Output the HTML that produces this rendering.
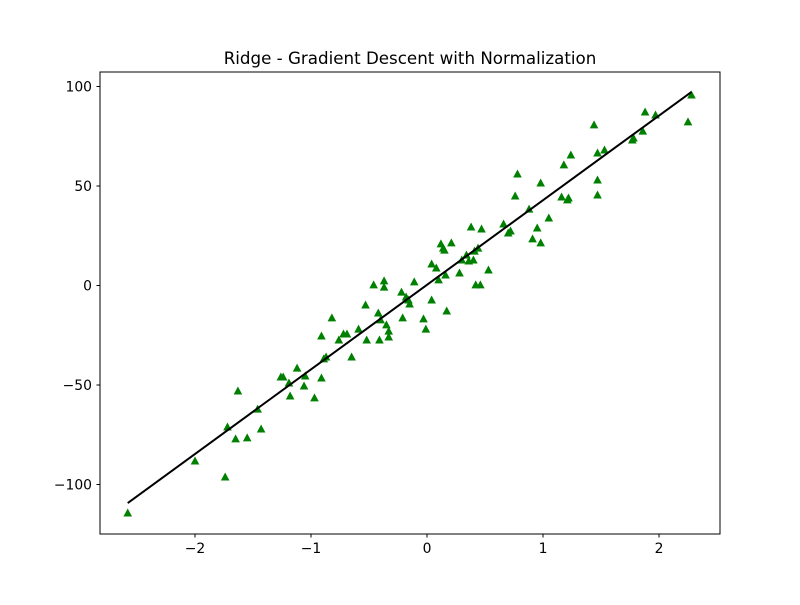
<!DOCTYPE html>
<html><head><meta charset="utf-8"><style>
body{margin:0;background:#fff}
svg text{font-family:"DejaVu Sans","Liberation Sans",sans-serif}
</style></head><body>
<svg id="chart" width="800" height="600" xmlns="http://www.w3.org/2000/svg">
<rect width="800" height="600" fill="#fff"/>
<text x="410" y="64" text-anchor="middle" font-size="16.7">Ridge - Gradient Descent with Normalization</text>
<g id="plot"></g>
<rect x="100" y="72" width="620" height="462" fill="none" stroke="#000" stroke-width="1"/>
</svg>
<script>
const xs=[-2.58,-2.00,-1.74,-1.72,-1.65,-1.63,-1.55,-1.46,-1.43,-1.26,-1.24,-1.19,-1.18,-1.12,-1.06,-1.05,-0.97,-0.91,-0.91,-0.89,-0.87,-0.82,-0.76,-0.72,-0.69,-0.65,-0.59,-0.53,-0.52,-0.46,-0.42,-0.41,-0.40,-0.37,-0.37,-0.35,-0.33,-0.33,-0.21,-0.22,-0.18,-0.16,-0.15,-0.11,-0.03,-0.01,0.04,0.04,0.08,0.10,0.12,0.14,0.15,0.16,0.17,0.21,0.28,0.30,0.34,0.36,0.38,0.40,0.41,0.42,0.44,0.46,0.47,0.53,0.66,0.70,0.72,0.78,0.76,0.88,0.91,0.95,0.98,0.98,1.05,1.16,1.18,1.22,1.21,1.24,1.44,1.47,1.47,1.47,1.53,1.77,1.78,1.86,1.88,1.97,2.25,2.28];
const ys=[-114.3,-88.2,-96.2,-71.1,-77.1,-53.0,-76.6,-62.1,-72.1,-46.0,-46.0,-49.0,-55.5,-41.5,-50.5,-45.5,-56.5,-46.5,-25.4,-36.9,-35.9,-16.3,-27.4,-24.4,-24.4,-35.9,-21.9,-9.8,-27.4,0.3,-13.8,-27.4,-17.3,-0.8,2.3,-19.8,-22.9,-25.9,-16.3,-3.3,-5.8,-7.3,-9.3,1.8,-16.8,-21.9,-7.3,10.8,8.8,2.8,20.9,18.8,17.8,5.3,-12.8,21.4,6.3,12.8,15.3,12.3,29.4,12.8,17.3,0.3,18.8,0.3,28.4,7.8,30.9,26.4,27.4,56.0,45.0,38.4,23.4,28.9,21.4,51.5,33.9,44.5,60.6,44.0,43.0,65.6,80.7,66.6,45.5,53.0,68.1,73.1,74.1,77.6,87.2,85.7,82.2,95.7];
const lineCoef=[42.5,0.35];
const xTicks=[-2,-1,0,1,2];
const yTicks=[-100,-50,0,50,100];
const yLabels=["\u2212100","\u221250","0","50","100"];
const xLabels=["\u22122","\u22121","0","1","2"];

const X=v=>427+v*116;
const Y=v=>285.5-v*1.99;
const NS="http://www.w3.org/2000/svg";
const plot=document.getElementById('plot');
function mk(tag,attrs){const e=document.createElementNS(NS,tag);for(const k in attrs)e.setAttribute(k,attrs[k]);plot.appendChild(e);return e;}

xTicks.forEach((t,i)=>{
  const l=mk('line',{x1:X(t),x2:X(t),y1:534,y2:537.5,stroke:'#000'});
  
  
  const tx=mk('text',{x:X(t),y:553,'text-anchor':'middle','font-size':'13.9'});
  tx.textContent=xLabels[i];
  
  
});
yTicks.forEach((t,i)=>{
  const l=mk('line',{x1:96.5,x2:100,y1:Y(t),y2:Y(t),stroke:'#000'});
  
  
  const tx=mk('text',{x:92,y:Y(t)+5,'text-anchor':'end','font-size':'13.9'});
  tx.textContent=yLabels[i];
  
  
});
xs.forEach((x,i)=>{
  const cx=X(x),cy=Y(ys[i]);
  const p=mk('polygon',{points:`${cx},${cy-4.5} ${cx-4.3},${cy+3.5} ${cx+4.3},${cy+3.5}`,fill:'#008000'});
  
  
});
const x0=Math.min(...xs),x1=Math.max(...xs);
const fl=mk('line',{x1:X(x0),y1:Y(lineCoef[0]*x0+lineCoef[1]),x2:X(x1),y2:Y(lineCoef[0]*x1+lineCoef[1]),stroke:'#000','stroke-width':2});


</script>
</body></html>
